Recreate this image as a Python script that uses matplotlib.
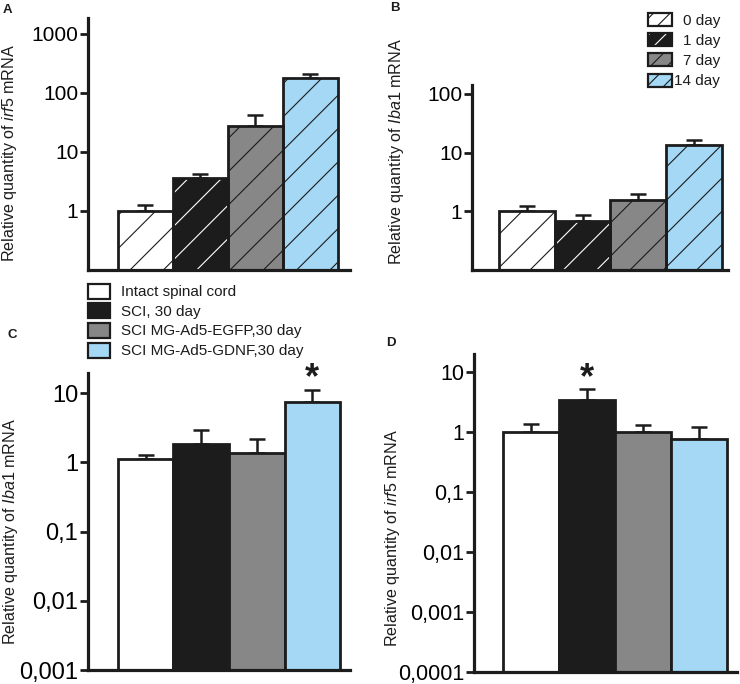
import matplotlib
matplotlib.use("Agg")
import matplotlib.pyplot as plt
import numpy as np
from matplotlib.patches import Rectangle

plt.rcParams['font.family'] = ['Liberation Sans', 'DejaVu Sans']
plt.rcParams['mathtext.fontset'] = 'custom'
plt.rcParams['mathtext.rm'] = 'Liberation Sans'
plt.rcParams['mathtext.it'] = 'Liberation Sans:italic'
plt.rcParams['hatch.linewidth'] = 0.8

# ---------------- data ----------------
days = ['0 day', '1 day', '7 day', '14 day']
groups = ['Intact spinal cord', 'SCI, 30 day', 'SCI MG-Ad5-EGFP,30 day', 'SCI MG-Ad5-GDNF,30 day']

a_vals = [1.0, 3.6, 28.0, 178.0]
a_errhi = [1.26, 4.2, 43.0, 210.0]
b_vals = [1.0, 0.68, 1.53, 13.4]
b_errhi = [1.21, 0.87, 1.93, 16.2]
c_vals = [1.1, 1.82, 1.38, 7.5]
c_errhi = [1.27, 2.9, 2.2, 10.9]
d_vals = [1.0, 3.37, 1.0, 0.745]
d_errhi = [1.37, 5.2, 1.29, 1.21]

a_ticks = [1, 10, 100, 1000]
a_ticklabels = ['1', '10', '100', '1000']
b_ticks = [1, 10, 100]
b_ticklabels = ['1', '10', '100']
c_ticks = [0.001, 0.01, 0.1, 1, 10]
c_ticklabels = ['0,001', '0,01', '0,1', '1', '10']
d_ticks = [0.0001, 0.001, 0.01, 0.1, 1, 10]
d_ticklabels = ['0,0001', '0,001', '0,01', '0,1', '1', '10']

colors = ['#ffffff', '#1c1c1c', '#878787', '#a4d8f5']
hatch_colors = ['#1c1c1c', '#ffffff', '#1c1c1c', '#1c1c1c']

W, H = 740, 684
fig = plt.figure(figsize=(W / 100, H / 100), dpi=100)


def rect(l, t, r, b):
    return [l / W, 1 - b / H, (r - l) / W, (b - t) / H]


def style_axes(ax, ylim, xlim, ticks, labels, fs):
    ax.set_yscale('log')
    ax.set_ylim(*ylim)
    ax.set_xlim(*xlim)
    for s in ['top', 'right']:
        ax.spines[s].set_visible(False)
    for s in ['left', 'bottom']:
        ax.spines[s].set_linewidth(2.3)
        ax.spines[s].set_color('#1c1c1c')
    ax.set_yticks(ticks)
    ax.set_yticklabels(labels, fontsize=fs)
    ax.yaxis.set_minor_locator(matplotlib.ticker.NullLocator())
    ax.tick_params(axis='y', length=6, width=2.0, pad=1, color='#1c1c1c')
    ax.set_xticks([])
    ax.patch.set_alpha(0)


def draw_bars(ax, vals, errhi, ybot, hatched):
    x = np.arange(len(vals))
    vals = np.array(vals)
    heights = vals - ybot
    if hatched:
        ax.bar(x, heights, width=1.0, bottom=ybot, color=colors,
               edgecolor=hatch_colors, hatch='/', linewidth=0, zorder=2)
        ax.bar(x, heights, width=1.0, bottom=ybot, fill=False,
               edgecolor='#1c1c1c', linewidth=2.0, zorder=3)
    else:
        ax.bar(x, heights, width=1.0, bottom=ybot, color=colors,
               edgecolor='#1c1c1c', linewidth=2.0, zorder=2)
    up = np.array(errhi) - vals
    ax.errorbar(x, vals, yerr=[np.zeros_like(up), up], fmt='none',
                ecolor='#1c1c1c', elinewidth=1.8, capsize=6, capthick=1.8,
                zorder=1)


# Panel A
axA = fig.add_axes(rect(88, 18, 350, 270))
style_axes(axA, (0.1, 1860), (-1.045, 3.72), a_ticks, a_ticklabels, 15)
draw_bars(axA, a_vals, a_errhi, 0.1, True)

# Panel B
axB = fig.add_axes(rect(472, 85, 728, 270))
style_axes(axB, (0.1, 141), (-0.984, 3.608), b_ticks, b_ticklabels, 15)
draw_bars(axB, b_vals, b_errhi, 0.1, True)

# Panel C
axC = fig.add_axes(rect(88, 373, 350, 670))
style_axes(axC, (0.001, 19.5), (-1.04, 3.68), c_ticks, c_ticklabels, 17)
draw_bars(axC, c_vals, c_errhi, 0.001, False)
axC.text(3, c_errhi[3] * 1.5, '*', ha='center', va='center',
         fontsize=26, fontweight='bold', color='#1c1c1c')

# Panel D
axD = fig.add_axes(rect(474, 354, 737, 672))
style_axes(axD, (0.0001, 19.7), (-1.018, 3.68), d_ticks, d_ticklabels, 15.5)
draw_bars(axD, d_vals, d_errhi, 0.0001, False)
axD.text(1, d_errhi[1] * 1.45, '*', ha='center', va='center',
         fontsize=26, fontweight='bold', color='#1c1c1c')

# y labels
ylab_irf5 = r'Relative quantity of $\mathit{irf5}$ mRNA'
ylab_iba1 = r'Relative quantity of $\mathit{Iba1}$ mRNA'
for (xp, yp, lab) in [(10, 153, ylab_irf5), (396, 152, ylab_iba1),
                      (11, 532, ylab_iba1), (392, 538, ylab_irf5)]:
    fig.text(xp / W, 1 - yp / H, lab, rotation=90, ha='center', va='center',
             fontsize=11.6, color='#1c1c1c')

# panel letters
for (xp, yp, lab) in [(3, 4, 'A'), (390, 2, 'B'), (8, 329, 'C'), (386, 337, 'D')]:
    fig.text(xp / W, 1 - yp / H, lab, ha='left', va='top', fontsize=9.5,
             fontweight='bold', color='#1c1c1c')

# legend for A/B (time points)
box_tops = [13, 33, 53, 74]
for i, lab in enumerate(days):
    t = box_tops[i]
    fig.add_artist(Rectangle((648 / W, 1 - (t + 13) / H), 24 / W, 13 / H,
                             transform=fig.transFigure, facecolor=colors[i],
                             edgecolor=hatch_colors[i], hatch='//', linewidth=0))
    fig.add_artist(Rectangle((648 / W, 1 - (t + 13) / H), 24 / W, 13 / H,
                             transform=fig.transFigure, fill=False,
                             edgecolor='#1c1c1c', linewidth=1.6))
    fig.text(720 / W, 1 - (t + 7.5) / H, lab, ha='right', va='center',
             fontsize=11, color='#1c1c1c')

# legend for C/D (groups)
box_tops2 = [284, 303, 323, 343]
for i, lab in enumerate(groups):
    t = box_tops2[i]
    fig.add_artist(Rectangle((88 / W, 1 - (t + 15) / H), 22 / W, 15 / H,
                             transform=fig.transFigure, facecolor=colors[i],
                             edgecolor='#1c1c1c', linewidth=1.6))
    fig.text(121 / W, 1 - (t + 8.5) / H, lab, ha='left', va='center',
             fontsize=11, color='#1c1c1c')

fig.savefig('out.png', dpi=100)
